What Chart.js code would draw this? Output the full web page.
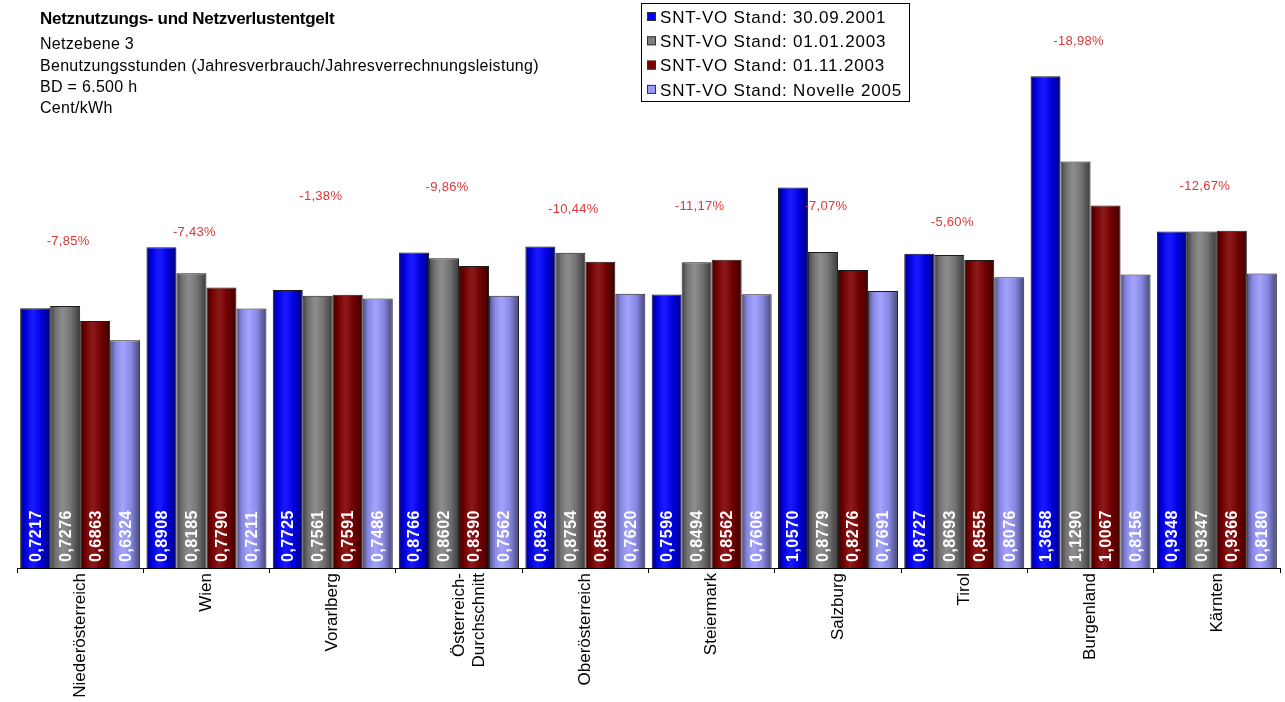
<!DOCTYPE html>
<html>
<head>
<meta charset="utf-8">
<script src="https://cdn.jsdelivr.net/npm/chart.js@4"></script>
<style>
	body { margin: 0; background: #fff; }
	#box { width: 1285px; height: 702px; }
</style>
</head>
<body>
<div id="box"><canvas id="myChart"></canvas></div>
<script>
var kategorien = ['Niederösterreich', 'Wien', 'Vorarlberg', ['Österreich-', 'Durchschnitt'], 'Oberösterreich', 'Steiermark', 'Salzburg', 'Tirol', 'Burgenland', 'Kärnten'];
var stand2001 = [0.7217, 0.8908, 0.7725, 0.8766, 0.8929, 0.7596, 1.0570, 0.8727, 1.3658, 0.9348];
var stand2003jan = [0.7276, 0.8185, 0.7561, 0.8602, 0.8754, 0.8494, 0.8779, 0.8693, 1.1290, 0.9347];
var stand2003nov = [0.6863, 0.7790, 0.7591, 0.8390, 0.8508, 0.8562, 0.8276, 0.8555, 1.0067, 0.9366];
var novelle2005 = [0.6324, 0.7211, 0.7486, 0.7562, 0.7620, 0.7606, 0.7691, 0.8076, 0.8156, 0.8180];
// Veränderung 01.11.2003 -> Novelle 2005, mit Höhe (in Cent/kWh) wie im Bild
var veraenderung = ['-7,85%', '-7,43%', '-1,38%', '-9,86%', '-10,44%', '-11,17%', '-7,07%', '-5,60%', '-18,98%', '-12,67%'];
var veraenderungHoehe = [0.906, 0.933, 1.031, 1.058, 0.997, 1.003, 1.003, 0.961, 1.464, 1.061];

var serienNamen = ['SNT-VO Stand: 30.09.2001', 'SNT-VO Stand: 01.01.2003', 'SNT-VO Stand: 01.11.2003', 'SNT-VO Stand: Novelle 2005'];
var serienFarben = ['#0000ff', '#808080', '#800000', '#9999ff'];

var schrift = '"Liberation Sans", Arial, sans-serif';

var titelPlugin = {
	id: 'titel',
	afterDraw: function(chart) {
		var c = chart.ctx;
		c.save();
		c.fillStyle = '#000';
		c.textBaseline = 'middle';
		c.textAlign = 'left';
		c.font = 'bold 17px ' + schrift;
		c.letterSpacing = '-0.3px';
		c.fillText('Netznutzungs- und Netzverlustentgelt', 40, 19);
		c.font = '16px ' + schrift;
		c.letterSpacing = '0.3px';
		var zeilen = ['Netzebene 3', 'Benutzungsstunden (Jahresverbrauch/Jahresverrechnungsleistung)', 'BD = 6.500 h', 'Cent/kWh'];
		zeilen.forEach(function(z, i) {
			c.fillText(z, 40, 45 + i * 21.3);
		});

		// Legende
		c.fillStyle = '#fff';
		c.fillRect(641, 3, 268, 98);
		c.strokeStyle = '#000';
		c.lineWidth = 1;
		c.strokeRect(641.5, 3.5, 268, 98);
		c.font = '17px ' + schrift;
		c.letterSpacing = '0.8px';
		chart.data.datasets.forEach(function(ds, i) {
			var y = 17 + i * 24.3;
			c.fillStyle = ds.backgroundColor;
			c.fillRect(647, y - 5, 9, 9);
			c.strokeStyle = '#333';
			c.strokeRect(647.5, y - 4.5, 8, 8);
			c.fillStyle = '#000';
			c.fillText(ds.label, 660, y + 1);
		});
		c.restore();
	}
};

var werte = {
	id: 'werte',
	afterDatasetsDraw: function(chart) {
		var c = chart.ctx;
		c.save();
		chart.data.datasets.forEach(function(ds, di) {
			var meta = chart.getDatasetMeta(di);
			meta.data.forEach(function(bar, i) {
				var l = bar.x - bar.width / 2;
				var r = bar.x + bar.width / 2;
				// 3D-Schattierung über den Balken
				var g = c.createLinearGradient(l, 0, r, 0);
				g.addColorStop(0, 'rgba(0,0,0,0.5)');
				g.addColorStop(0.18, 'rgba(0,0,0,0.12)');
				g.addColorStop(0.42, 'rgba(255,255,255,0.1)');
				g.addColorStop(0.7, 'rgba(0,0,0,0.12)');
				g.addColorStop(1, 'rgba(0,0,0,0.55)');
				c.fillStyle = g;
				c.fillRect(l + 1, bar.y + 1, bar.width - 2, bar.base - bar.y - 1);

				c.save();
				c.translate(bar.x, bar.base - 6);
				c.rotate(-Math.PI / 2);
				c.fillStyle = '#fff';
				c.font = 'bold 16px ' + schrift;
				c.letterSpacing = '0.5px';
				c.textAlign = 'left';
				c.textBaseline = 'middle';
				c.fillText(ds.data[i].toFixed(4).replace('.', ','), 0, 1);
				c.restore();
			});
		});

		var x = chart.scales.x, y = chart.scales.y;
		c.fillStyle = '#d83838';
		c.font = '13px ' + schrift;
		c.letterSpacing = '0.3px';
		c.textAlign = 'center';
		c.textBaseline = 'middle';
		veraenderung.forEach(function(t, i) {
			c.fillText(t, x.getPixelForValue(i) - 12, y.getPixelForValue(veraenderungHoehe[i]));
		});
		c.restore();
	}
};

var ctx = document.getElementById('myChart').getContext('2d');
var reihen = [stand2001, stand2003jan, stand2003nov, novelle2005];
var chart = new Chart(ctx, {
	type: 'bar',
	data: {
		labels: kategorien,
		datasets: reihen.map(function(r, i) {
			return {
				label: serienNamen[i],
				data: r,
				backgroundColor: serienFarben[i],
				borderColor: '#1a1a1a',
				borderWidth: 1,
				categoryPercentage: 0.95,
				barPercentage: 1.0
			};
		})
	},
	options: {
		responsive: true,
		maintainAspectRatio: false,
		animation: false,
		layout: { padding: { top: 28, left: 17, right: 5, bottom: 0 } },
		plugins: {
			legend: { display: false },
			tooltip: { enabled: false }
		},
		scales: {
			y: { display: false, min: 0, max: 1.5 },
			x: {
				afterFit: function(s) { s.height = 134; },
				border: { display: true, color: '#000', width: 1 },
				grid: { offset: true, drawOnChartArea: false, tickLength: 5, color: '#000' },
				ticks: {
					color: '#000',
					font: { family: schrift, size: 17 },
					minRotation: 90,
					maxRotation: 90,
					autoSkip: false,
					padding: 0
				}
			}
		}
	},
	plugins: [titelPlugin, werte]
});
</script>
</body>
</html>
